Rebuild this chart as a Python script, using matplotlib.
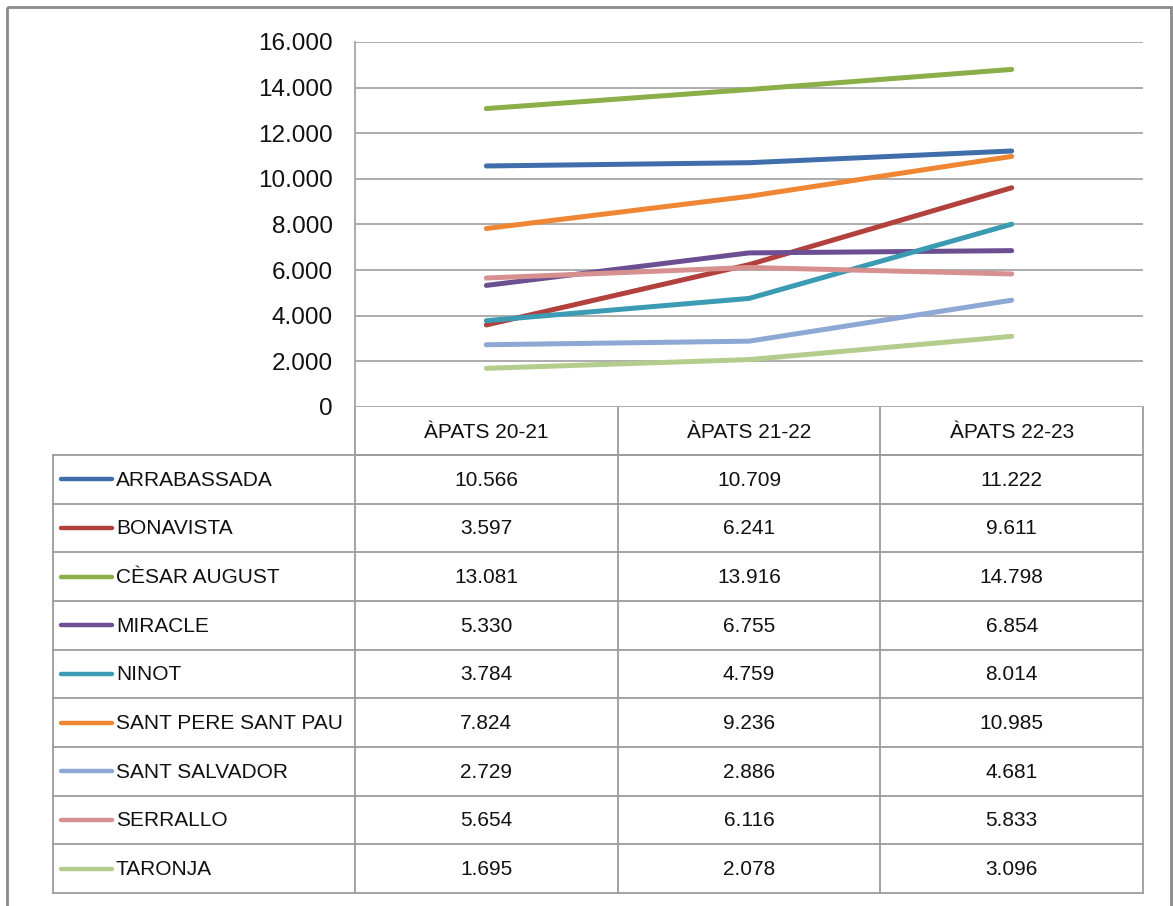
import matplotlib
matplotlib.use("Agg")
from matplotlib import pyplot as plt
from matplotlib.patches import Rectangle

plt.rcParams['font.family'] = ['Liberation Sans', 'DejaVu Sans']

# data
categories = ['ÀPATS 20-21', 'ÀPATS 21-22', 'ÀPATS 22-23']
schools = ['ARRABASSADA', 'BONAVISTA', 'CÈSAR AUGUST', 'MIRACLE', 'NINOT',
           'SANT PERE SANT PAU', 'SANT SALVADOR', 'SERRALLO', 'TARONJA']
arrabassada = [10566, 10709, 11222]
bonavista = [3597, 6241, 9611]
cesar_august = [13081, 13916, 14798]
miracle = [5330, 6755, 6854]
ninot = [3784, 4759, 8014]
sant_pere = [7824, 9236, 10985]
sant_salvador = [2729, 2886, 4681]
serrallo = [5654, 6116, 5833]
taronja = [1695, 2078, 3096]
series = [arrabassada, bonavista, cesar_august, miracle, ninot,
          sant_pere, sant_salvador, serrallo, taronja]
colors = ['#3F6EAA', '#B2403D', '#8AAE48', '#6C4F92', '#3A9BB3',
          '#EE8634', '#8DA8D5', '#D79090', '#B4CC8C']
yticks = list(range(0, 16001, 2000))


def fmt(v):
    return f"{v:,}".replace(",", ".")


W, H = 1173, 906
fig = plt.figure(figsize=(W / 100, H / 100), dpi=100)

# pixel geometry
px_left, px_right, px_top, px_bottom = 355, 1143, 42, 407
tab_left, tab_bottom = 53, 893
head_h = px_bottom + 48
row_h = (tab_bottom - head_h) / len(schools)
grid_col = '#A6A6A6'

ax = fig.add_axes([px_left / W, 1 - px_bottom / H,
                   (px_right - px_left) / W, (px_bottom - px_top) / H])
for vals, c in zip(series, colors):
    ax.plot(range(len(categories)), vals, color=c, lw=3.6,
            solid_capstyle='round', solid_joinstyle='round')
ax.set_xlim(-0.5, len(categories) - 0.5)
ax.set_ylim(0, 16000)
ax.set_yticks(yticks)
ax.set_yticklabels([fmt(t) for t in yticks], fontsize=17.5, color='#111111')
ax.set_xticks([])
ax.tick_params(axis='y', length=0, pad=16)
ax.grid(axis='y', color=grid_col, lw=1.3)
for s in ['top', 'right', 'bottom']:
    ax.spines[s].set_visible(False)
ax.spines['left'].set_color(grid_col)
ax.spines['left'].set_linewidth(1.3)

# overlay in pixel coordinates for the data table
ov = fig.add_axes([0, 0, 1, 1], zorder=-1)
ov.set_xlim(0, W)
ov.set_ylim(H, 0)
ov.axis('off')

lc = '#9C9C9C'
cell_w = (px_right - px_left) / len(categories)
# header row
ov.plot([px_left, px_right], [head_h, head_h], color=lc, lw=1.3)
ov.plot([px_right, px_right], [px_bottom, tab_bottom], color=lc, lw=1.3)
ov.plot([px_left, px_left], [px_bottom, tab_bottom], color=lc, lw=1.3)
for j in range(1, len(categories)):
    x = px_left + j * cell_w
    ov.plot([x, x], [px_bottom, tab_bottom], color=lc, lw=1.3)
for j, cat in enumerate(categories):
    ov.text(px_left + (j + 0.5) * cell_w, (px_bottom + head_h) / 2 + 2, cat,
            ha='center', va='center', fontsize=15, color='#111111')

ov.plot([tab_left, tab_left], [head_h, tab_bottom], color=lc, lw=1.3)
for i in range(len(schools) + 1):
    y = head_h + i * row_h
    ov.plot([tab_left, px_right], [y, y], color=lc, lw=1.3)

for i, (name, vals, c) in enumerate(zip(schools, series, colors)):
    yc = head_h + (i + 0.5) * row_h
    ov.plot([61, 112], [yc, yc], color=c, lw=3.2, solid_capstyle='round')
    ov.text(116, yc + 1, name, ha='left', va='center', fontsize=15,
            color='#111111')
    for j, v in enumerate(vals):
        ov.text(px_left + (j + 0.5) * cell_w, yc + 1, fmt(v), ha='center',
                va='center', fontsize=15, color='#111111')

# outer chart frame
ov.add_patch(Rectangle((7, 7), 1164, 920, fill=False, ec='#8A8A8A', lw=2,
                       clip_on=False))

fig.savefig('out.png', dpi=100, facecolor='white')
